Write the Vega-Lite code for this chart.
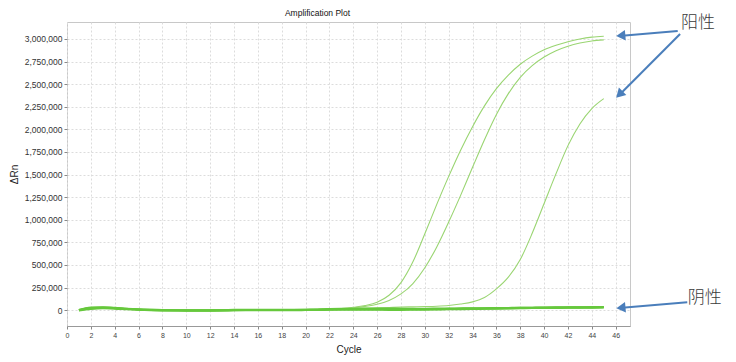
{
  "$schema": "https://vega.github.io/schema/vega-lite/v6.json",
  "width": 563,
  "height": 304,
  "autosize": {"type": "none"},
  "padding": {"left": 67, "top": 22, "right": 106, "bottom": 36},
  "background": "white",
  "config": {
    "view": {"stroke": "#c8c8c8", "strokeWidth": 1},
    "font": "Liberation Sans",
    "axis": {"gridColor": "#dcdcdc", "gridDash": [2, 2], "gridWidth": 1, "labelColor": "#333", "titleColor": "#222", "titleFontWeight": "normal", "tickColor": "#888", "domainColor": "#999", "labelOverlap": false}
  },
  "title": {"text": "Amplification Plot", "fontSize": 8.5, "fontWeight": "normal", "color": "#111", "anchor": "middle", "dx": -31, "offset": -3, "font": "Liberation Sans"},
  "datasets": {
    "curves": [
      {"s":"A","g":"pos","c":1,"v":1000},{"s":"A","g":"pos","c":2,"v":30000},{"s":"A","g":"pos","c":3,"v":35000},{"s":"A","g":"pos","c":4,"v":27000},{"s":"A","g":"pos","c":5,"v":17000},{"s":"A","g":"pos","c":6,"v":9000},{"s":"A","g":"pos","c":7,"v":4000},{"s":"A","g":"pos","c":8,"v":1000},{"s":"A","g":"pos","c":9,"v":-1000},{"s":"A","g":"pos","c":10,"v":-2000},{"s":"A","g":"pos","c":11,"v":-2000},{"s":"A","g":"pos","c":12,"v":-1000},{"s":"A","g":"pos","c":13,"v":0},{"s":"A","g":"pos","c":14,"v":3000},{"s":"A","g":"pos","c":15,"v":4000},{"s":"A","g":"pos","c":16,"v":4000},{"s":"A","g":"pos","c":17,"v":4000},{"s":"A","g":"pos","c":18,"v":4000},{"s":"A","g":"pos","c":19,"v":4000},{"s":"A","g":"pos","c":20,"v":5000},{"s":"A","g":"pos","c":21,"v":8000},{"s":"A","g":"pos","c":22,"v":12000},{"s":"A","g":"pos","c":23,"v":19000},{"s":"A","g":"pos","c":24,"v":32000},{"s":"A","g":"pos","c":25,"v":52000},{"s":"A","g":"pos","c":26,"v":88000},{"s":"A","g":"pos","c":27,"v":165000},{"s":"A","g":"pos","c":28,"v":305000},{"s":"A","g":"pos","c":29,"v":535000},{"s":"A","g":"pos","c":30,"v":845000},{"s":"A","g":"pos","c":31,"v":1170000},{"s":"A","g":"pos","c":32,"v":1480000},{"s":"A","g":"pos","c":33,"v":1770000},{"s":"A","g":"pos","c":34,"v":2030000},{"s":"A","g":"pos","c":35,"v":2260000},{"s":"A","g":"pos","c":36,"v":2450000},{"s":"A","g":"pos","c":37,"v":2600000},{"s":"A","g":"pos","c":38,"v":2720000},{"s":"A","g":"pos","c":39,"v":2810000},{"s":"A","g":"pos","c":40,"v":2880000},{"s":"A","g":"pos","c":41,"v":2930000},{"s":"A","g":"pos","c":42,"v":2970000},{"s":"A","g":"pos","c":43,"v":3000000},{"s":"A","g":"pos","c":44,"v":3020000},{"s":"A","g":"pos","c":45,"v":3030000},
      {"s":"B","g":"pos","c":1,"v":-1000},{"s":"B","g":"pos","c":2,"v":25000},{"s":"B","g":"pos","c":3,"v":30000},{"s":"B","g":"pos","c":4,"v":24000},{"s":"B","g":"pos","c":5,"v":15000},{"s":"B","g":"pos","c":6,"v":8000},{"s":"B","g":"pos","c":7,"v":3000},{"s":"B","g":"pos","c":8,"v":0},{"s":"B","g":"pos","c":9,"v":-2000},{"s":"B","g":"pos","c":10,"v":-2000},{"s":"B","g":"pos","c":11,"v":-2000},{"s":"B","g":"pos","c":12,"v":-2000},{"s":"B","g":"pos","c":13,"v":-1000},{"s":"B","g":"pos","c":14,"v":2000},{"s":"B","g":"pos","c":15,"v":3000},{"s":"B","g":"pos","c":16,"v":3000},{"s":"B","g":"pos","c":17,"v":3000},{"s":"B","g":"pos","c":18,"v":3000},{"s":"B","g":"pos","c":19,"v":3000},{"s":"B","g":"pos","c":20,"v":4000},{"s":"B","g":"pos","c":21,"v":7000},{"s":"B","g":"pos","c":22,"v":11000},{"s":"B","g":"pos","c":23,"v":17000},{"s":"B","g":"pos","c":24,"v":27000},{"s":"B","g":"pos","c":25,"v":42000},{"s":"B","g":"pos","c":26,"v":65000},{"s":"B","g":"pos","c":27,"v":108000},{"s":"B","g":"pos","c":28,"v":180000},{"s":"B","g":"pos","c":29,"v":295000},{"s":"B","g":"pos","c":30,"v":470000},{"s":"B","g":"pos","c":31,"v":700000},{"s":"B","g":"pos","c":32,"v":975000},{"s":"B","g":"pos","c":33,"v":1270000},{"s":"B","g":"pos","c":34,"v":1580000},{"s":"B","g":"pos","c":35,"v":1885000},{"s":"B","g":"pos","c":36,"v":2165000},{"s":"B","g":"pos","c":37,"v":2395000},{"s":"B","g":"pos","c":38,"v":2575000},{"s":"B","g":"pos","c":39,"v":2705000},{"s":"B","g":"pos","c":40,"v":2800000},{"s":"B","g":"pos","c":41,"v":2870000},{"s":"B","g":"pos","c":42,"v":2920000},{"s":"B","g":"pos","c":43,"v":2955000},{"s":"B","g":"pos","c":44,"v":2978000},{"s":"B","g":"pos","c":45,"v":2990000},
      {"s":"C","g":"pos","c":1,"v":0},{"s":"C","g":"pos","c":2,"v":20000},{"s":"C","g":"pos","c":3,"v":25000},{"s":"C","g":"pos","c":4,"v":20000},{"s":"C","g":"pos","c":5,"v":13000},{"s":"C","g":"pos","c":6,"v":6000},{"s":"C","g":"pos","c":7,"v":2000},{"s":"C","g":"pos","c":8,"v":-1000},{"s":"C","g":"pos","c":9,"v":-2000},{"s":"C","g":"pos","c":10,"v":-3000},{"s":"C","g":"pos","c":11,"v":-3000},{"s":"C","g":"pos","c":12,"v":-3000},{"s":"C","g":"pos","c":13,"v":-2000},{"s":"C","g":"pos","c":14,"v":1000},{"s":"C","g":"pos","c":15,"v":2000},{"s":"C","g":"pos","c":16,"v":2000},{"s":"C","g":"pos","c":17,"v":2000},{"s":"C","g":"pos","c":18,"v":2000},{"s":"C","g":"pos","c":19,"v":2000},{"s":"C","g":"pos","c":20,"v":4000},{"s":"C","g":"pos","c":21,"v":7000},{"s":"C","g":"pos","c":22,"v":10000},{"s":"C","g":"pos","c":23,"v":14000},{"s":"C","g":"pos","c":24,"v":18000},{"s":"C","g":"pos","c":25,"v":22000},{"s":"C","g":"pos","c":26,"v":26000},{"s":"C","g":"pos","c":27,"v":30000},{"s":"C","g":"pos","c":28,"v":34000},{"s":"C","g":"pos","c":29,"v":37000},{"s":"C","g":"pos","c":30,"v":40000},{"s":"C","g":"pos","c":31,"v":44000},{"s":"C","g":"pos","c":32,"v":52000},{"s":"C","g":"pos","c":33,"v":68000},{"s":"C","g":"pos","c":34,"v":92000},{"s":"C","g":"pos","c":35,"v":140000},{"s":"C","g":"pos","c":36,"v":235000},{"s":"C","g":"pos","c":37,"v":365000},{"s":"C","g":"pos","c":38,"v":560000},{"s":"C","g":"pos","c":39,"v":850000},{"s":"C","g":"pos","c":40,"v":1180000},{"s":"C","g":"pos","c":41,"v":1510000},{"s":"C","g":"pos","c":42,"v":1820000},{"s":"C","g":"pos","c":43,"v":2060000},{"s":"C","g":"pos","c":44,"v":2230000},{"s":"C","g":"pos","c":45,"v":2340000},
      {"s":"N1","g":"neg","c":1,"v":0},{"s":"N1","g":"neg","c":2,"v":28000},{"s":"N1","g":"neg","c":3,"v":32000},{"s":"N1","g":"neg","c":4,"v":25000},{"s":"N1","g":"neg","c":5,"v":16000},{"s":"N1","g":"neg","c":6,"v":9000},{"s":"N1","g":"neg","c":7,"v":4000},{"s":"N1","g":"neg","c":8,"v":1000},{"s":"N1","g":"neg","c":9,"v":-1000},{"s":"N1","g":"neg","c":10,"v":-2000},{"s":"N1","g":"neg","c":11,"v":-2000},{"s":"N1","g":"neg","c":12,"v":-2000},{"s":"N1","g":"neg","c":13,"v":-1000},{"s":"N1","g":"neg","c":14,"v":3000},{"s":"N1","g":"neg","c":15,"v":4000},{"s":"N1","g":"neg","c":16,"v":4000},{"s":"N1","g":"neg","c":17,"v":4000},{"s":"N1","g":"neg","c":18,"v":3000},{"s":"N1","g":"neg","c":19,"v":3000},{"s":"N1","g":"neg","c":20,"v":4000},{"s":"N1","g":"neg","c":21,"v":7000},{"s":"N1","g":"neg","c":22,"v":11000},{"s":"N1","g":"neg","c":23,"v":14000},{"s":"N1","g":"neg","c":24,"v":16000},{"s":"N1","g":"neg","c":25,"v":17000},{"s":"N1","g":"neg","c":26,"v":17000},{"s":"N1","g":"neg","c":27,"v":17000},{"s":"N1","g":"neg","c":28,"v":16000},{"s":"N1","g":"neg","c":29,"v":16000},{"s":"N1","g":"neg","c":30,"v":16000},{"s":"N1","g":"neg","c":31,"v":17000},{"s":"N1","g":"neg","c":32,"v":18000},{"s":"N1","g":"neg","c":33,"v":19000},{"s":"N1","g":"neg","c":34,"v":20000},{"s":"N1","g":"neg","c":35,"v":21000},{"s":"N1","g":"neg","c":36,"v":22000},{"s":"N1","g":"neg","c":37,"v":23000},{"s":"N1","g":"neg","c":38,"v":25000},{"s":"N1","g":"neg","c":39,"v":26000},{"s":"N1","g":"neg","c":40,"v":27000},{"s":"N1","g":"neg","c":41,"v":29000},{"s":"N1","g":"neg","c":42,"v":30000},{"s":"N1","g":"neg","c":43,"v":31000},{"s":"N1","g":"neg","c":44,"v":32000},{"s":"N1","g":"neg","c":45,"v":34000},
      {"s":"N2","g":"neg","c":1,"v":2000},{"s":"N2","g":"neg","c":2,"v":22000},{"s":"N2","g":"neg","c":3,"v":27000},{"s":"N2","g":"neg","c":4,"v":22000},{"s":"N2","g":"neg","c":5,"v":14000},{"s":"N2","g":"neg","c":6,"v":7000},{"s":"N2","g":"neg","c":7,"v":3000},{"s":"N2","g":"neg","c":8,"v":0},{"s":"N2","g":"neg","c":9,"v":-2000},{"s":"N2","g":"neg","c":10,"v":-3000},{"s":"N2","g":"neg","c":11,"v":-3000},{"s":"N2","g":"neg","c":12,"v":-3000},{"s":"N2","g":"neg","c":13,"v":-2000},{"s":"N2","g":"neg","c":14,"v":1000},{"s":"N2","g":"neg","c":15,"v":2000},{"s":"N2","g":"neg","c":16,"v":2000},{"s":"N2","g":"neg","c":17,"v":2000},{"s":"N2","g":"neg","c":18,"v":2000},{"s":"N2","g":"neg","c":19,"v":2000},{"s":"N2","g":"neg","c":20,"v":3000},{"s":"N2","g":"neg","c":21,"v":5000},{"s":"N2","g":"neg","c":22,"v":8000},{"s":"N2","g":"neg","c":23,"v":10000},{"s":"N2","g":"neg","c":24,"v":11000},{"s":"N2","g":"neg","c":25,"v":11000},{"s":"N2","g":"neg","c":26,"v":11000},{"s":"N2","g":"neg","c":27,"v":10000},{"s":"N2","g":"neg","c":28,"v":10000},{"s":"N2","g":"neg","c":29,"v":10000},{"s":"N2","g":"neg","c":30,"v":11000},{"s":"N2","g":"neg","c":31,"v":12000},{"s":"N2","g":"neg","c":32,"v":14000},{"s":"N2","g":"neg","c":33,"v":16000},{"s":"N2","g":"neg","c":34,"v":18000},{"s":"N2","g":"neg","c":35,"v":20000},{"s":"N2","g":"neg","c":36,"v":22000},{"s":"N2","g":"neg","c":37,"v":24000},{"s":"N2","g":"neg","c":38,"v":26000},{"s":"N2","g":"neg","c":39,"v":27000},{"s":"N2","g":"neg","c":40,"v":28000},{"s":"N2","g":"neg","c":41,"v":30000},{"s":"N2","g":"neg","c":42,"v":31000},{"s":"N2","g":"neg","c":43,"v":32000},{"s":"N2","g":"neg","c":44,"v":33000},{"s":"N2","g":"neg","c":45,"v":35000},
      {"s":"N3","g":"neg","c":1,"v":-3000},{"s":"N3","g":"neg","c":2,"v":15000},{"s":"N3","g":"neg","c":3,"v":22000},{"s":"N3","g":"neg","c":4,"v":18000},{"s":"N3","g":"neg","c":5,"v":11000},{"s":"N3","g":"neg","c":6,"v":5000},{"s":"N3","g":"neg","c":7,"v":1000},{"s":"N3","g":"neg","c":8,"v":-2000},{"s":"N3","g":"neg","c":9,"v":-3000},{"s":"N3","g":"neg","c":10,"v":-4000},{"s":"N3","g":"neg","c":11,"v":-4000},{"s":"N3","g":"neg","c":12,"v":-4000},{"s":"N3","g":"neg","c":13,"v":-3000},{"s":"N3","g":"neg","c":14,"v":0},{"s":"N3","g":"neg","c":15,"v":1000},{"s":"N3","g":"neg","c":16,"v":1000},{"s":"N3","g":"neg","c":17,"v":1000},{"s":"N3","g":"neg","c":18,"v":1000},{"s":"N3","g":"neg","c":19,"v":1000},{"s":"N3","g":"neg","c":20,"v":2000},{"s":"N3","g":"neg","c":21,"v":3000},{"s":"N3","g":"neg","c":22,"v":5000},{"s":"N3","g":"neg","c":23,"v":6000},{"s":"N3","g":"neg","c":24,"v":6000},{"s":"N3","g":"neg","c":25,"v":6000},{"s":"N3","g":"neg","c":26,"v":5000},{"s":"N3","g":"neg","c":27,"v":4000},{"s":"N3","g":"neg","c":28,"v":4000},{"s":"N3","g":"neg","c":29,"v":5000},{"s":"N3","g":"neg","c":30,"v":6000},{"s":"N3","g":"neg","c":31,"v":8000},{"s":"N3","g":"neg","c":32,"v":10000},{"s":"N3","g":"neg","c":33,"v":12000},{"s":"N3","g":"neg","c":34,"v":14000},{"s":"N3","g":"neg","c":35,"v":16000},{"s":"N3","g":"neg","c":36,"v":18000},{"s":"N3","g":"neg","c":37,"v":20000},{"s":"N3","g":"neg","c":38,"v":22000},{"s":"N3","g":"neg","c":39,"v":24000},{"s":"N3","g":"neg","c":40,"v":25000},{"s":"N3","g":"neg","c":41,"v":26000},{"s":"N3","g":"neg","c":42,"v":27000},{"s":"N3","g":"neg","c":43,"v":28000},{"s":"N3","g":"neg","c":44,"v":29000},{"s":"N3","g":"neg","c":45,"v":30000}
    ],
    "arrows": [
      {"a":1,"c":51.2,"v":3088000},{"a":1,"c":46.3,"v":3033000},
      {"a":2,"c":51.4,"v":3055000},{"a":2,"c":46.3,"v":2380000},
      {"a":3,"c":52.0,"v":88600},{"a":3,"c":46.3,"v":24000}
    ],
    "headsFlat": [
      {"c":46.43,"v":3037000},{"c":46.44,"v":27000}
    ],
    "headsDiag": [
      {"c":46.31,"v":2386000}
    ],
    "labels": [
      {"c":51.47,"v":3172000,"t":"阳性"},
      {"c":52.05,"v":133000,"t":"阴性"}
    ]
  },
  "layer": [
    {
      "data": {"name": "curves"},
      "mark": {"type": "line", "interpolate": "monotone"},
      "encoding": {
        "x": {"field": "c", "type": "quantitative", "scale": {"domain": [0, 47.2], "nice": false, "zero": false},
              "axis": {"title": "Cycle", "values": [0,2,4,6,8,10,12,14,16,18,20,22,24,26,28,30,32,34,36,38,40,42,44,46], "tickCount": 100, "format": "d", "labelOverlap": false, "labelFontSize": 7, "tickSize": 3, "labelPadding": 2, "titleFontSize": 10, "titlePadding": 6, "domain": true, "labelFlush": false, "labelColor": "#444"}},
        "y": {"field": "v", "type": "quantitative", "scale": {"domain": [-175000, 3187500], "nice": false, "zero": false},
              "axis": {"title": "ΔRn", "values": [0,250000,500000,750000,1000000,1250000,1500000,1750000,2000000,2250000,2500000,2750000,3000000], "tickCount": 100, "labelOverlap": false, "format": ",d", "labelFontSize": 8.5, "tickSize": 3, "labelPadding": 2, "titleFontSize": 10, "titlePadding": 5, "domain": false}},
        "detail": {"field": "s"},
        "color": {"field": "g", "type": "nominal", "scale": {"domain": ["pos", "neg"], "range": ["#9ad572", "#66c83c"]}, "legend": null},
        "strokeWidth": {"field": "g", "type": "nominal", "scale": {"domain": ["pos", "neg"], "range": [1.1, 2.2]}, "legend": null}
      }
    },
    {
      "data": {"name": "arrows"},
      "mark": {"type": "line", "color": "#4a7ebb", "strokeWidth": 2},
      "encoding": {
        "x": {"field": "c", "type": "quantitative"},
        "y": {"field": "v", "type": "quantitative"},
        "detail": {"field": "a"}
      }
    },
    {
      "data": {"name": "headsFlat"},
      "mark": {"type": "point", "shape": "triangle-left", "filled": true, "color": "#4a7ebb", "opacity": 1, "size": 110, "angle": 355},
      "encoding": {
        "x": {"field": "c", "type": "quantitative"},
        "y": {"field": "v", "type": "quantitative"}
      }
    },
    {
      "data": {"name": "headsDiag"},
      "mark": {"type": "point", "shape": "triangle-left", "filled": true, "color": "#4a7ebb", "opacity": 1, "size": 110, "angle": 315},
      "encoding": {
        "x": {"field": "c", "type": "quantitative"},
        "y": {"field": "v", "type": "quantitative"}
      }
    },
    {
      "data": {"name": "labels"},
      "mark": {"type": "text", "align": "left", "baseline": "middle", "fontSize": 17, "font": "Noto Sans CJK SC", "color": "#3a3a3a", "fontWeight": 300},
      "encoding": {
        "x": {"field": "c", "type": "quantitative"},
        "y": {"field": "v", "type": "quantitative"},
        "text": {"field": "t"}
      }
    }
  ]
}
